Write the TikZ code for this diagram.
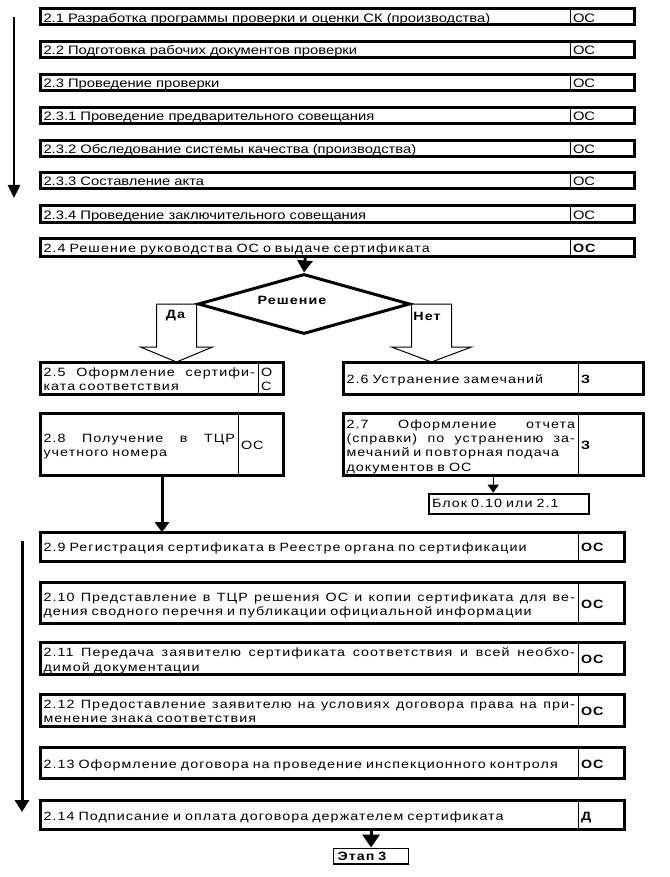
\documentclass[tikz,border=0pt]{standalone}
\usepackage{fontspec}
\setmainfont{Liberation Sans}
\newfontfamily\narrowface[FakeStretch=1.2]{Liberation Sans}
\newfontfamily\wideface[FakeStretch=1.19,LetterSpace=9]{Liberation Sans}
\usetikzlibrary{arrows.meta,positioning,shapes.geometric,calc}
\newcommand{\jline}[2]{\leavevmode\hbox to #1{#2}}

\begin{document}
\begin{tikzpicture}[x=1pt, y=-1pt, >={Triangle[length=12pt,width=15pt]},
	font=\wideface\fontsize{12pt}{14.2pt}\selectfont,
	cell/.style={rectangle, inner xsep=3pt, inner ysep=0pt, outer sep=0pt, align=left, anchor=north west, text height=10.5pt, text depth=0pt},
	topcell/.style={cell, font=\narrowface\fontsize{12.3pt}{14.2pt}\selectfont},
	role/.style={rectangle, inner xsep=3pt, inner ysep=0pt, outer sep=0pt, align=left, text height=10.5pt, text depth=0pt},
	toprole/.style={role, font=\narrowface\fontsize{12.3pt}{14.2pt}\selectfont},
	twolines/.style={text depth=14.2pt},
	fourlines/.style={text depth=42.6pt},
	frame/.style={line width=3pt},
	divline/.style={line width=1pt},
	flow/.style={->, line width=3pt},
	hollow/.style={draw, line width=1pt, fill=white},
	decision/.style={diamond, draw, line width=3pt, inner sep=0pt, minimum width=212pt, minimum height=59pt},
	note/.style={rectangle, draw, align=left, anchor=north west}]
		\path[use as bounding box] (0,0) rectangle (669,877);

		% first part of the stage
		\node[topcell, text width=523.5pt, minimum height=16pt] (s21) at (40.5,8.8) {2.1 Разработка программы проверки и оценки СК (производства)};
		\node[toprole, text width=58.5pt, minimum height=16pt, right=0pt of s21] (s21-r) {ОС};
		\node[topcell, text width=523.5pt, minimum height=16pt] (s22) at (40.5,41.5) {2.2 Подготовка рабочих документов проверки};
		\node[toprole, text width=58.5pt, minimum height=16pt, right=0pt of s22] (s22-r) {ОС};
		\node[topcell, text width=523.5pt, minimum height=16.5pt] (s23) at (40.5,74.2) {2.3 Проведение проверки};
		\node[toprole, text width=58.5pt, minimum height=16.5pt, right=0pt of s23] (s23-r) {ОС};
		\node[topcell, text width=523.5pt, minimum height=16.5pt] (s231) at (40.5,107.2) {2.3.1 Проведение предварительного совещания};
		\node[toprole, text width=58.5pt, minimum height=16.5pt, right=0pt of s231] (s231-r) {ОС};
		\node[topcell, text width=523.5pt, minimum height=16.5pt] (s232) at (40.5,140.5) {2.3.2 Обследование системы качества (производства)};
		\node[toprole, text width=58.5pt, minimum height=16.5pt, right=0pt of s232] (s232-r) {ОС};
		\node[topcell, text width=523.5pt, minimum height=16.5pt] (s233) at (40.5,172.5) {2.3.3 Составление акта};
		\node[toprole, text width=58.5pt, minimum height=16.5pt, right=0pt of s233] (s233-r) {ОС};
		\node[topcell, text width=523.5pt, minimum height=17pt] (s234) at (40.5,205.5) {2.3.4 Проведение заключительного совещания};
		\node[toprole, text width=58.5pt, minimum height=17pt, right=0pt of s234] (s234-r) {ОС};
		\node[cell, text width=523.5pt, minimum height=18.5pt] (s24) at (40.5,238.2) {2.4 Решение руководства ОС о выдаче сертификата};
		\node[role, text width=58.5pt, minimum height=18.5pt, right=0pt of s24] (s24-r) {\bfseries ОС};

		% decision
		\node[decision] (dec) at (304,304) {\kern-24pt\raisebox{7pt}{\bfseries Решение}};
		\draw[hollow] (dec.west) -- ++(0,43) -- ++(16,0) -- ++(-36,15) -- ++(-36,-15) -- ++(16,0) -- ++(0,-43) -- cycle;
		\draw[hollow] (dec.east) -- ++(40,0) -- ++(0,43) -- ++(20,0) -- ++(-40,15) -- ++(-40,-15) -- ++(20,0) -- cycle;
		\node[font=\wideface\fontsize{12pt}{14.2pt}\selectfont\bfseries] (yes) at (175.5,316) {Да};
		\node[font=\wideface\fontsize{12pt}{14.2pt}\selectfont\bfseries] (no) at (427,316) {Нет};

		\node[cell, twolines, text width=211.5pt, minimum height=31.7pt] (s25) at (40.5,362.5) {\jline{211.5pt}{2.5\hfill Оформление\hfill сертифи-}\\ката соответствия};
		\node[role, twolines, text width=19.5pt, minimum height=31.7pt, right=0pt of s25] (s25-r) {О\\С};
		\node[cell, text width=228.5pt, minimum height=31.7pt] (s26) at (343.5,362.5) {2.6 Устранение замечаний};
		\node[role, text width=59pt, minimum height=31.7pt, right=0pt of s26] (s26-r) {\bfseries З};
		\node[cell, twolines, text width=191.5pt, minimum height=62pt] (s28) at (40.5,413.5) {\jline{191.5pt}{2.8\hfill Получение\hfill в\hfill ТЦР}\\учетного номера};
		\node[role, text width=39.5pt, minimum height=62pt, right=0pt of s28] (s28-r) {ОС};
		\node[cell, fourlines, text width=228.5pt, minimum height=62pt] (s27) at (343.5,413.5) {\jline{228.5pt}{2.7\hfill Оформление\hfill отчета}\\\jline{228.5pt}{(справки)\hfill по\hfill устранению\hfill за-}\\мечаний и повторная подача\\документов в ОС};
		\node[role, text width=59pt, minimum height=62pt, right=0pt of s27] (s27-r) {\bfseries З};
		\node[note, line width=2pt, text width=154pt, minimum height=20.3pt, inner xsep=3pt] (blk) at (428,492.7) {Блок 0.10 или 2.1};

		% second part of the stage
		\node[cell, text width=531.5pt, minimum height=29pt] (s29) at (40.5,532.2) {2.9 Регистрация сертификата в Реестре органа по сертификации};
		\node[role, text width=40.5pt, minimum height=29pt, right=0pt of s29] (s29-r) {\bfseries ОС};
		\node[cell, twolines, text width=531.5pt, minimum height=41.6pt] (s210) at (40.5,582.2) {\jline{531.5pt}{2.10\hfill Представление\hfill в\hfill ТЦР\hfill решения\hfill ОС\hfill и\hfill копии\hfill сертификата\hfill для\hfill ве-}\\дения сводного перечня и публикации официальной информации};
		\node[role, text width=40.5pt, minimum height=41.6pt, right=0pt of s210] (s210-r) {\bfseries ОС};
		\node[cell, twolines, text width=531.5pt, minimum height=31.7pt] (s211) at (40.5,642.8) {\jline{531.5pt}{2.11\hfill Передача\hfill заявителю\hfill сертификата\hfill соответствия\hfill и\hfill всей\hfill необхо-}\\димой документации};
		\node[role, text width=40.5pt, minimum height=31.7pt, right=0pt of s211] (s211-r) {\bfseries ОС};
		\node[cell, twolines, text width=531.5pt, minimum height=31.4pt] (s212) at (40.5,694.8) {\jline{531.5pt}{2.12\hfill Предоставление\hfill заявителю\hfill на\hfill условиях\hfill договора\hfill права\hfill на\hfill при-}\\менение знака соответствия};
		\node[role, text width=40.5pt, minimum height=31.4pt, right=0pt of s212] (s212-r) {\bfseries ОС};
		\node[cell, text width=531.5pt, minimum height=31.3pt] (s213) at (40.5,747.2) {2.13 Оформление договора на проведение инспекционного контроля};
		\node[role, text width=40.5pt, minimum height=31.3pt, right=0pt of s213] (s213-r) {\bfseries ОС};
		\node[cell, text width=531.5pt, minimum height=29.3pt] (s214) at (40.5,800.2) {2.14 Подписание и оплата договора держателем сертификата};
		\node[role, text width=40.5pt, minimum height=29.3pt, right=0pt of s214] (s214-r) {\bfseries Д};
		\node[note, line width=1.5pt, text width=67pt, minimum height=15.7pt, inner xsep=4pt, inner ysep=0pt] (etap) at (332.8,847.5) {\bfseries Этап 3};

		\foreach \n in {s21,s22,s23,s231,s232,s233,s234,s24,s25,s26,s28,s27,s29,s210,s211,s212,s213,s214}{
			\draw[frame] (\n.north west) rectangle (\n-r.south east);
			\draw[divline] (\n.north east) -- (\n.south east);
		}

		\coordinate (s28b) at ($(s28.south west)!.5!(s28-r.south east)$);
		\coordinate (s27b) at ($(s27.south west)!.5!(s27-r.south east)$);
		\coordinate (up1) at (14,17);
		\coordinate (up2) at (14,198);
		\coordinate (lo1) at (22,541);
		\coordinate (lo2) at (22,812);

		\draw[flow, line width=2.5pt, >={Triangle[length=13pt,width=12pt]}] (up1) -- (up2);
		\draw[flow] (s24.south) -- (dec.north);
		\draw[flow, >={Triangle[length=10pt,width=14pt]}] (s28b) -- (s28b |- s29.north);
		\draw[flow, line width=1.5pt, >={Triangle[length=8pt,width=11pt]}] (s27b) -- (s27b |- blk.north);
		\draw[flow, >={Triangle[length=12pt,width=14pt]}] (lo1) -- (lo2);
		\draw[flow, >={Triangle[length=13pt,width=17pt]}] (etap.north |- s214.south) -- (etap.north);
	\end{tikzpicture}
\end{document}
